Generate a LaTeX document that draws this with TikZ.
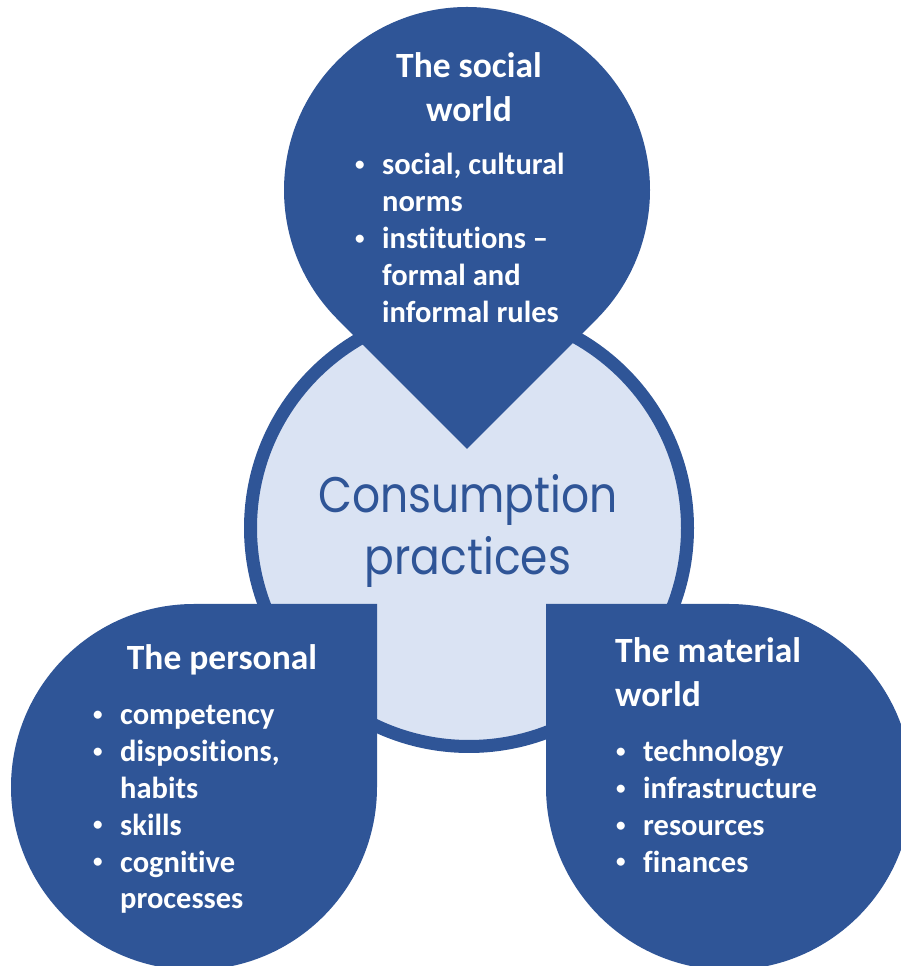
\documentclass[tikz,border=0pt]{standalone}
\usepackage{fontspec}
\usepackage{graphicx}
\setmainfont{Carlito}[Ligatures=NoCommon]
\newfontfamily\centrefont{Poppins}
\definecolor{darkblue}{HTML}{2F5597}
\definecolor{paleblue}{HTML}{DAE3F3}
\newcommand\titlefont{\bfseries\fontsize{35.5}{44}\selectfont}
\newcommand\listfont{\bfseries\fontsize{30.5}{36.8}\selectfont}
\newcommand\bit{\makebox[25pt][l]{\hspace*{-2pt}\raisebox{4.5pt}{\fontsize{19}{19}\selectfont\textbullet}}}
\newcommand\ind{\hspace*{25pt}}
\tikzset{
  blob/.style={fill=darkblue, draw=none},
  hub/.style={fill=paleblue, draw=darkblue, line width=13pt},
  whitetext/.style={text=white, inner sep=0pt},
}
\begin{document}
\begin{tikzpicture}[x=1pt, y=1pt]
  \useasboundingbox (0,0) rectangle (901,966);
  \clip (0,0) rectangle (901,966);

  % central circle
  \draw[hub] (469,438) circle[radius=218.5];

  % social world: teardrop pointing down
  \fill[blob] (467,517) -- ({467+183*cos(-45)},{776+183*sin(-45)})
    arc[start angle=-45, end angle=225, radius=183] -- cycle;
  % the personal: square corner top right
  \fill[blob] (377,362) -- (194,362)
    arc[start angle=90, end angle=360, radius=183] -- cycle;
  % the material world: square corner top left
  \fill[blob] (546,362) -- (546,179)
    arc[start angle=180, end angle=450, radius=183] -- cycle;

  % centre label
  \node[text=darkblue, inner sep=0pt, anchor=base,
        font=\centrefont\fontsize{50}{62}\selectfont] (hub-label) at (468,453)
    {\scalebox{0.88}[1]{\begin{tabular}[t]{@{}c@{}}Consumption\\practices\end{tabular}}};

  % social world text
  \node[whitetext, anchor=base, font=\titlefont] (social-title) at (469,888)
    {\begin{tabular}[t]{@{}c@{}}The social\\world\end{tabular}};
  \node[whitetext, anchor=base west, font=\listfont] (social-list) at (357,791)
    {\begin{tabular}[t]{@{}l@{}}\bit social, cultural\\ \ind norms\\
      \bit institutions --\\ \ind formal and\\ \ind informal rules\end{tabular}};

  % personal text
  \node[whitetext, anchor=base, font=\titlefont] (personal-title) at (222,296)
    {The personal};
  \node[whitetext, anchor=base west, font=\listfont] (personal-list) at (95,241)
    {\begin{tabular}[t]{@{}l@{}}\bit competency\\ \bit dispositions,\\
      \ind habits\\ \bit skills\\ \bit cognitive\\ \ind processes\end{tabular}};

  % material world text
  \node[whitetext, anchor=base west, font=\titlefont] (material-title) at (615,303)
    {\begin{tabular}[t]{@{}l@{}}The material\\world\end{tabular}};
  \node[whitetext, anchor=base west, font=\listfont] (material-list) at (618,204)
    {\begin{tabular}[t]{@{}l@{}}\bit technology\\ \bit infrastructure\\
      \bit resources\\ \bit finances\end{tabular}};
\end{tikzpicture}
\end{document}
